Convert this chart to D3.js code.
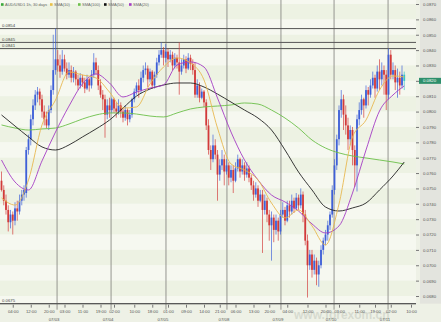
<!DOCTYPE html>
<html>
<head>
<meta charset="utf-8">
<script src="https://cdn.jsdelivr.net/npm/d3@7"></script>
<style>
  body { margin: 0; background: #eef1e6; }
  svg { display: block; font-family: "Liberation Sans", Arial, sans-serif; }
</style>
</head>
<body>
<div id="chart"></div>
<script>
// hourly candles, 07/02 - 07/11
const opens = [0.0755,0.0749,0.0742,0.0736,0.0728,0.0733,0.0729,0.0737,0.0735,0.0742,0.0746,0.0747,0.0775,0.0782,0.0795,0.0804,0.0811,0.0813,0.0808,0.0800,
  0.0795,0.0791,0.0801,0.0814,0.0827,0.0834,0.0830,0.0826,0.0834,0.0828,0.0824,0.0827,0.0822,0.0826,0.0821,0.0817,0.0822,0.0819,0.0815,0.0821,
  0.0817,0.0824,0.0832,0.0827,0.0817,0.0811,0.0808,0.0798,0.0804,0.0801,0.0808,0.0802,0.0800,0.0804,0.0800,0.0796,0.0801,0.0795,0.0798,0.0808,
  0.0813,0.0817,0.0814,0.0822,0.0827,0.0828,0.0821,0.0826,0.0817,0.0824,0.0832,0.0837,0.0840,0.0835,0.0839,0.0834,0.0837,0.0830,0.0835,0.0832,
  0.0826,0.0830,0.0834,0.0828,0.0835,0.0831,0.0827,0.0811,0.0817,0.0809,0.0813,0.0806,0.0791,0.0775,0.0769,0.0778,0.0772,0.0759,0.0765,0.0769,
  0.0761,0.0765,0.0757,0.0762,0.0755,0.0763,0.0769,0.0761,0.0765,0.0759,0.0763,0.0757,0.0752,0.0746,0.0750,0.0742,0.0746,0.0736,0.0742,0.0733,
  0.0726,0.0731,0.0723,0.0729,0.0722,0.0733,0.0736,0.0729,0.0739,0.0735,0.0742,0.0737,0.0744,0.0739,0.0746,0.0733,0.0716,0.0700,0.0707,0.0697,
  0.0703,0.0694,0.0700,0.0710,0.0716,0.0720,0.0726,0.0733,0.0749,0.0765,0.0782,0.0801,0.0808,0.0798,0.0791,0.0782,0.0788,0.0775,0.0765,0.0795,
  0.0801,0.0808,0.0804,0.0814,0.0811,0.0817,0.0822,0.0815,0.0826,0.0821,0.0827,0.0824,0.0811,0.0837,0.0824,0.0827,0.0819,0.0822,0.0817,0.0824];
const highs = [0.0761,0.0752,0.0746,0.0739,0.0736,0.0735,0.0741,0.0742,0.0746,0.0749,0.0752,0.0777,0.0785,0.0798,0.0808,0.0814,0.0816,0.0815,0.0811,0.0804,
  0.0800,0.0804,0.0817,0.0850,0.0854,0.0840,0.0837,0.0840,0.0837,0.0832,0.0832,0.0830,0.0829,0.0827,0.0824,0.0825,0.0824,0.0822,0.0824,0.0822,
  0.0827,0.0838,0.0835,0.0830,0.0821,0.0814,0.0811,0.0808,0.0809,0.0809,0.0809,0.0806,0.0808,0.0806,0.0802,0.0804,0.0802,0.0801,0.0809,0.0815,
  0.0819,0.0821,0.0826,0.0830,0.0832,0.0830,0.0828,0.0827,0.0826,0.0835,0.0840,0.0845,0.0842,0.0844,0.0841,0.0840,0.0839,0.0838,0.0837,0.0845,
  0.0834,0.0837,0.0836,0.0838,0.0837,0.0834,0.0832,0.0821,0.0819,0.0815,0.0814,0.0808,0.0795,0.0778,0.0785,0.0782,0.0775,0.0769,0.0775,0.0772,
  0.0769,0.0767,0.0765,0.0765,0.0767,0.0772,0.0770,0.0769,0.0767,0.0767,0.0765,0.0759,0.0755,0.0754,0.0752,0.0749,0.0749,0.0746,0.0744,0.0736,
  0.0735,0.0733,0.0733,0.0731,0.0736,0.0741,0.0738,0.0742,0.0742,0.0746,0.0744,0.0747,0.0746,0.0750,0.0748,0.0736,0.0720,0.0710,0.0710,0.0707,
  0.0705,0.0703,0.0713,0.0718,0.0723,0.0729,0.0735,0.0752,0.0769,0.0785,0.0804,0.0814,0.0811,0.0804,0.0796,0.0791,0.0790,0.0778,0.0798,0.0806,
  0.0811,0.0809,0.0817,0.0816,0.0821,0.0826,0.0824,0.0830,0.0834,0.0832,0.0830,0.0827,0.0841,0.0840,0.0832,0.0830,0.0828,0.0826,0.0830,0.0826];
const lows = [0.0748,0.0739,0.0733,0.0722,0.0724,0.0720,0.0726,0.0729,0.0733,0.0739,0.0742,0.0744,0.0772,0.0778,0.0791,0.0801,0.0806,0.0804,0.0796,0.0791,
  0.0789,0.0788,0.0799,0.0811,0.0824,0.0826,0.0822,0.0824,0.0826,0.0821,0.0822,0.0819,0.0819,0.0817,0.0814,0.0815,0.0816,0.0812,0.0814,0.0813,
  0.0815,0.0822,0.0824,0.0814,0.0809,0.0801,0.0783,0.0795,0.0796,0.0799,0.0799,0.0796,0.0798,0.0796,0.0793,0.0794,0.0791,0.0793,0.0796,0.0806,
  0.0811,0.0809,0.0812,0.0819,0.0824,0.0816,0.0819,0.0815,0.0815,0.0822,0.0830,0.0835,0.0830,0.0832,0.0829,0.0832,0.0827,0.0828,0.0828,0.0811,
  0.0824,0.0828,0.0825,0.0827,0.0827,0.0824,0.0809,0.0809,0.0806,0.0808,0.0803,0.0788,0.0772,0.0762,0.0767,0.0769,0.0742,0.0755,0.0762,0.0752,
  0.0759,0.0752,0.0754,0.0747,0.0754,0.0761,0.0757,0.0759,0.0755,0.0757,0.0754,0.0749,0.0742,0.0744,0.0738,0.0741,0.0708,0.0733,0.0728,0.0716,
  0.0703,0.0715,0.0720,0.0716,0.0720,0.0731,0.0726,0.0728,0.0731,0.0733,0.0734,0.0736,0.0736,0.0737,0.0728,0.0713,0.0679,0.0697,0.0692,0.0694,
  0.0687,0.0686,0.0698,0.0707,0.0713,0.0716,0.0723,0.0731,0.0746,0.0762,0.0778,0.0796,0.0788,0.0785,0.0775,0.0778,0.0765,0.0751,0.0748,0.0791,
  0.0798,0.0796,0.0802,0.0804,0.0809,0.0815,0.0809,0.0813,0.0814,0.0817,0.0811,0.0801,0.0808,0.0821,0.0821,0.0814,0.0809,0.0811,0.0815,0.0814];
const closes = [0.0749,0.0742,0.0736,0.0728,0.0733,0.0729,0.0737,0.0735,0.0742,0.0746,0.0749,0.0775,0.0782,0.0795,0.0804,0.0811,0.0813,0.0808,0.0800,0.0795,
  0.0791,0.0801,0.0814,0.0827,0.0834,0.0830,0.0826,0.0834,0.0828,0.0824,0.0827,0.0822,0.0826,0.0821,0.0817,0.0822,0.0819,0.0815,0.0821,0.0817,
  0.0824,0.0832,0.0827,0.0817,0.0811,0.0808,0.0798,0.0804,0.0801,0.0808,0.0802,0.0800,0.0804,0.0800,0.0796,0.0801,0.0795,0.0798,0.0808,0.0813,
  0.0817,0.0814,0.0822,0.0827,0.0828,0.0821,0.0826,0.0817,0.0824,0.0832,0.0837,0.0840,0.0835,0.0839,0.0834,0.0837,0.0830,0.0835,0.0832,0.0826,
  0.0830,0.0834,0.0828,0.0835,0.0831,0.0827,0.0811,0.0817,0.0809,0.0813,0.0806,0.0791,0.0775,0.0769,0.0778,0.0772,0.0759,0.0765,0.0769,0.0761,
  0.0765,0.0757,0.0762,0.0755,0.0763,0.0769,0.0761,0.0765,0.0759,0.0763,0.0757,0.0752,0.0746,0.0750,0.0742,0.0746,0.0736,0.0742,0.0733,0.0726,
  0.0731,0.0723,0.0729,0.0722,0.0733,0.0736,0.0729,0.0739,0.0735,0.0742,0.0737,0.0744,0.0739,0.0746,0.0733,0.0716,0.0700,0.0707,0.0697,0.0703,
  0.0694,0.0700,0.0710,0.0716,0.0720,0.0726,0.0733,0.0749,0.0765,0.0782,0.0801,0.0808,0.0798,0.0791,0.0782,0.0788,0.0775,0.0765,0.0795,0.0801,
  0.0808,0.0804,0.0814,0.0811,0.0817,0.0822,0.0815,0.0826,0.0821,0.0827,0.0824,0.0811,0.0837,0.0824,0.0827,0.0819,0.0822,0.0817,0.0824,0.0820];

// moving averages, read every 6 bars
const smaIdx = [0,6,12,18,24,30,36,42,48,54,60,66,72,78,84,90,96,102,108,114,120,126,132,138,144,150,156,162,168,174,179];
const sma10 = [0.07438,0.07392,0.07555,0.07913,0.08075,0.08258,0.08238,0.08219,0.08127,0.08023,0.08030,0.08180,0.08290,0.08349,0.08316,0.08206,
  0.07893,0.07659,0.07620,0.07555,0.07405,0.07308,0.07360,0.07256,0.07132,0.07399,0.07835,0.07945,0.08140,0.08232,0.08225];
const sma20 = [0.07685,0.07542,0.07490,0.07679,0.07867,0.08036,0.08180,0.08245,0.08186,0.08095,0.08127,0.08153,0.08173,0.08303,0.08323,0.08290,
  0.08088,0.07867,0.07685,0.07555,0.07457,0.07412,0.07353,0.07269,0.07210,0.07256,0.07470,0.07750,0.08004,0.08108,0.08167];
const sma50 = [0.07978,0.07906,0.07835,0.07770,0.07750,0.07783,0.07835,0.07887,0.07945,0.08023,0.08101,0.08147,0.08173,0.08186,0.08186,0.08160,
  0.08114,0.08062,0.08010,0.07958,0.07880,0.07750,0.07607,0.07490,0.07379,0.07353,0.07373,0.07405,0.07490,0.07581,0.07672];
const sma100 = [0.07913,0.07893,0.07880,0.07887,0.07893,0.07919,0.07952,0.07978,0.07991,0.07991,0.07984,0.07971,0.07965,0.07991,0.08017,0.08030,
  0.08036,0.08043,0.08056,0.08049,0.08010,0.07958,0.07893,0.07815,0.07763,0.07731,0.07711,0.07698,0.07685,0.07672,0.07659];

// axis labels
const yTicks = [0.0870,0.0860,0.0850,0.0840,0.0830,0.0820,0.0810,0.0800,0.0790,0.0780,0.0770,0.0760,0.0750,0.0740,0.0730,0.0720,0.0710,0.0700,0.0690,0.0680];
const timeIdx = [5,13,21,28,36,44,50,59,67,74,82,90,97,104,112,119,127,136,144,150,159,166,173,182];
const timeLabels = ["04:00","12:00","20:00","03:00","11:00","19:00","02:00","10:00","18:00","01:00","09:00","14:00",
  "21:00","06:00","13:00","20:00","04:00","12:00","20:00","03:00","11:00","19:00","02:00","10:00"];
const dayIdx = [24.7,48.7,73.1,100.2,124.2,147.8,171.8];
const dayLabels = ["07/03","07/04","07/05","07/08","07/09","07/10","07/11"];
const levels = [0.0854,0.0845,0.0841,0.0675];
const legendNames = ["AUD/USD1 1h, 30 days","SMA(10)","SMA(100)","SMA(50)","SMA(20)"];
const legendColors = ["#3aa83a","#e8c048","#6cc04a","#111111","#a43cc4"];

const width = 441, height = 322;
const plotR = 416;

const svg = d3.select("#chart").append("svg")
  .attr("width", width).attr("height", height);

const y = d3.scaleLinear().domain([0.0870, 0.0680]).range([4, 296]);
const x = d3.scaleLinear().domain([0, 179]).range([1.5, 404.25]);
const plotB = y(0.0675);

// plot background bands
svg.append("rect").attr("x", 0).attr("y", 0).attr("width", plotR).attr("height", plotB).attr("fill", "#f5f7ee");
const edges = [0.0880].concat(yTicks, [0.0675]);
svg.append("g").selectAll("rect")
  .data(d3.pairs(edges))
  .join("rect")
    .attr("x", 0)
    .attr("y", d => Math.max(0, y(d[0])))
    .attr("width", plotR)
    .attr("height", d => y(d[1]) - Math.max(0, y(d[0])))
    .attr("fill", (d, i) => i % 2 ? "#edf2e3" : "#f6f8f0");

// right axis strip
svg.append("rect").attr("x", 420).attr("y", 0).attr("width", 21).attr("height", plotB).attr("fill", "#e3e4de");

// watermark (faint, sits behind the axis text)
svg.append("text")
  .attr("x", 294).attr("y", 318.5)
  .attr("font-size", 12).attr("font-weight", "bold")
  .attr("fill", "#cfd3c8").attr("fill-opacity", 0.75)
  .text("www.forexom.cn");

// day separators
svg.append("g").selectAll("line")
  .data(dayIdx)
  .join("line")
    .attr("x1", d => x(d)).attr("x2", d => x(d))
    .attr("y1", 0).attr("y2", plotB + 6)
    .attr("stroke", "#8a8a86").attr("stroke-width", 0.9);

// horizontal levels
svg.append("g").selectAll("line")
  .data(levels)
  .join("line")
    .attr("x1", 0).attr("x2", plotR)
    .attr("y1", d => y(d)).attr("y2", d => y(d))
    .attr("stroke", "#555").attr("stroke-width", 1);
svg.append("g").selectAll("text")
  .data(levels)
  .join("text")
    .attr("x", 2).attr("y", d => y(d) - 1.2)
    .attr("font-size", 4.3).attr("fill", "#444")
    .text(d => d3.format(".4f")(d));

// candles
const bars = closes.map((c, i) => ({i: i, o: opens[i], h: highs[i], l: lows[i], c: c}));
const candleColor = d => d.i === closes.length - 1 ? "#35c2c8" : (d.c >= d.o ? "#3f60d8" : "#d23a3a");

svg.append("g").selectAll("line")
  .data(bars)
  .join("line")
    .attr("x1", d => x(d.i)).attr("x2", d => x(d.i))
    .attr("y1", d => y(d.h)).attr("y2", d => y(d.l))
    .attr("stroke", candleColor).attr("stroke-width", 0.8).attr("stroke-opacity", 0.85);

svg.append("g").selectAll("rect")
  .data(bars)
  .join("rect")
    .attr("x", d => x(d.i) - 0.9)
    .attr("width", 1.8)
    .attr("y", d => y(Math.max(d.o, d.c)))
    .attr("height", d => Math.max(0.8, Math.abs(y(d.o) - y(d.c))))
    .attr("fill", candleColor);

// moving averages
const line = d3.line()
  .x((d, i) => x(smaIdx[i]))
  .y(d => y(d))
  .curve(d3.curveMonotoneX);

const smaSets = [
  {vals: sma100, color: "#6cc04a"},
  {vals: sma50, color: "#222"},
  {vals: sma20, color: "#a43cc4"},
  {vals: sma10, color: "#e8b850"}
];
svg.append("g").selectAll("path")
  .data(smaSets)
  .join("path")
    .attr("d", d => line(d.vals))
    .attr("fill", "none")
    .attr("stroke", d => d.color)
    .attr("stroke-width", 0.9);

// right axis
const yAxis = svg.append("g")
  .attr("transform", `translate(${plotR},0)`)
  .call(d3.axisRight(y).tickValues(yTicks).tickFormat(d3.format(".4f")).tickSize(3).tickPadding(4));
yAxis.select(".domain").remove();
yAxis.selectAll("line").attr("stroke", "#777");
yAxis.selectAll("text").attr("font-size", 4.3).attr("fill", "#555").attr("font-family", "Liberation Sans");

// current price box
const last = closes[closes.length - 1];
svg.append("rect")
  .attr("x", 419).attr("y", y(last) - 3)
  .attr("width", 22).attr("height", 6)
  .attr("fill", "#2d8f6c");
svg.append("text")
  .attr("x", 423).attr("y", y(last) + 1.5)
  .attr("font-size", 4.3).attr("fill", "#fff")
  .text(d3.format(".4f")(last));

// bottom axis
svg.append("line")
  .attr("x1", 0).attr("x2", plotR)
  .attr("y1", plotB).attr("y2", plotB)
  .attr("stroke", "#555");
const xAxis = svg.append("g")
  .attr("transform", `translate(0,${plotB + 1})`)
  .call(d3.axisBottom(x).tickValues(timeIdx).tickFormat((d, i) => timeLabels[i]).tickSize(3).tickPadding(2));
xAxis.select(".domain").remove();
xAxis.selectAll("line").attr("stroke", "#777");
xAxis.selectAll("text").attr("font-size", 4.3).attr("fill", "#555").attr("font-family", "Liberation Sans");

svg.append("g").selectAll("text")
  .data(dayIdx)
  .join("text")
    .attr("x", d => x(d) - 3)
    .attr("y", 321)
    .attr("text-anchor", "middle")
    .attr("font-size", 4.3).attr("fill", "#555")
    .text((d, i) => dayLabels[i]);

// legend
const legend = svg.append("g").attr("font-size", 4).attr("fill", "#666");
const legendX = [1, 50, 78, 104, 129];
legendNames.forEach((name, i) => {
  legend.append("rect").attr("x", legendX[i]).attr("y", 3.2).attr("width", 2.6).attr("height", 2.6).attr("fill", legendColors[i]);
  legend.append("text").attr("x", legendX[i] + 4).attr("y", 6.2).text(name);
});
</script>
</body>
</html>
